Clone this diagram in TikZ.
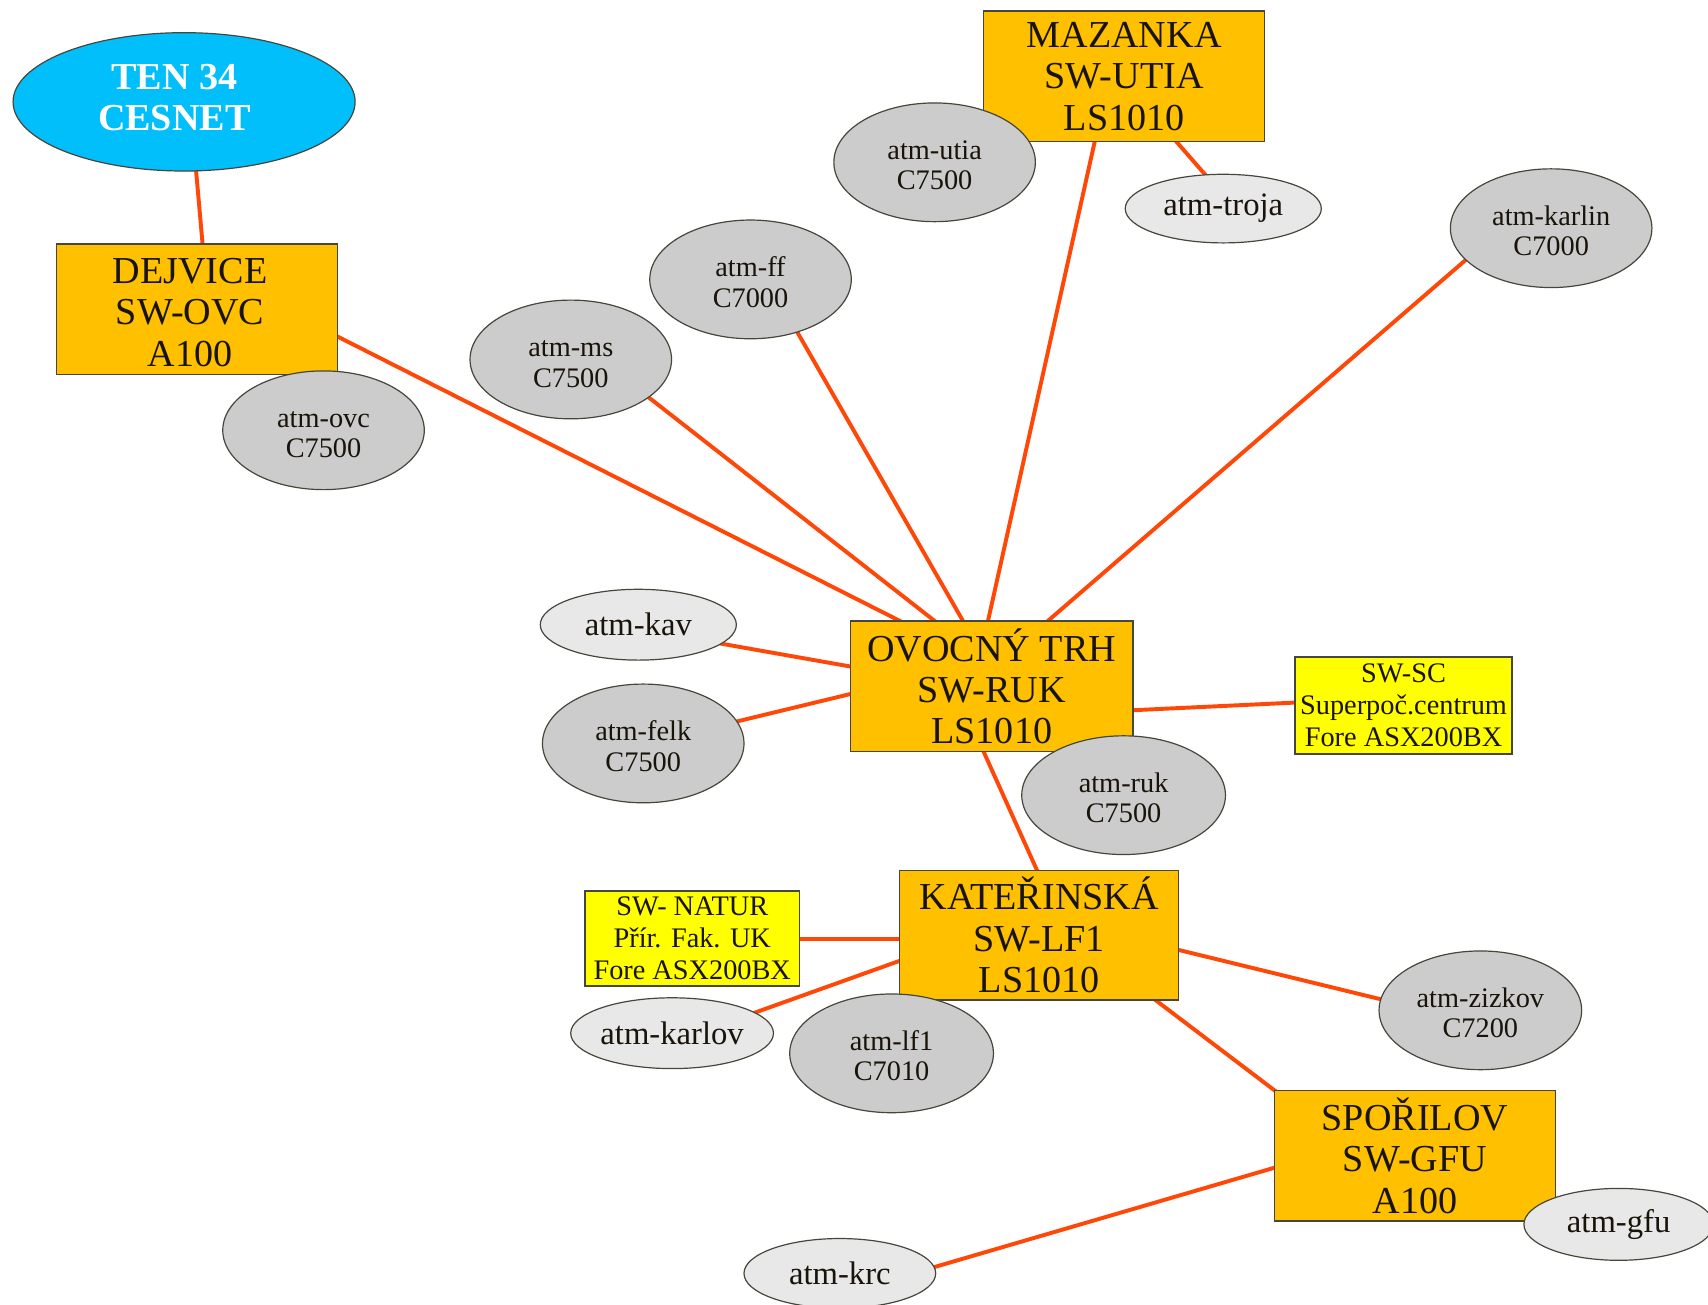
\documentclass[tikz,border=0pt]{standalone}
\usepackage{fontspec}
\setmainfont{Liberation Serif}
\usetikzlibrary{calc,backgrounds,shapes.geometric}
\definecolor{boxorange}{RGB}{255,192,0}
\definecolor{boxyellow}{RGB}{255,255,0}
\definecolor{ellgray}{RGB}{204,204,204}
\definecolor{elllight}{RGB}{232,232,232}
\definecolor{tenblue}{RGB}{0,191,250}
\definecolor{edgered}{RGB}{255,72,8}
\definecolor{bordergray}{RGB}{70,70,60}
\definecolor{txt}{RGB}{25,20,10}
\newcommand{\shiftedlines}[3]{\raisebox{#2}{\begin{tabular}{@{}c@{}}#1\end{tabular}}\hspace{#3}}
\begin{document}
\begin{tikzpicture}[x=1pt,y=-1pt,
  swbox/.style={rectangle,draw=bordergray,line width=1.3pt,fill=boxorange,inner sep=0pt,
    minimum width=258pt,minimum height=120pt,align=center,text=txt,
    font=\fontsize{35}{38}\selectfont},
  ylwbox/.style={rectangle,draw=bordergray,line width=1.3pt,fill=boxyellow,inner sep=0pt,
    minimum width=199pt,minimum height=89pt,align=center,text=txt,
    font=\fontsize{26}{29.5}\selectfont},
  gell/.style={ellipse,draw=bordergray,line width=1.1pt,fill=ellgray,inner sep=0pt,
    minimum width=185pt,minimum height=109pt,align=center,text=txt,
    font=\fontsize{26}{28}\selectfont},
  lell/.style={ellipse,draw=bordergray,line width=1.1pt,fill=elllight,inner sep=0pt,
    minimum width=179pt,minimum height=64pt,align=center,text=txt,
    font=\fontsize{30}{32}\selectfont},
  tenell/.style={ellipse,draw=bordergray,line width=1.1pt,fill=tenblue,inner sep=0pt,
    minimum width=314pt,minimum height=127pt,align=center,text=white,
    font=\bfseries\fontsize{35}{38}\selectfont},
  edge/.style={draw=edgered,line width=3.6pt}
]
\useasboundingbox (0,0) rectangle (1568,1198);

% boxes
\node[swbox] (mazanka) at (1032,70) {MAZANKA\\SW-UTIA\\LS1010};
\node[swbox] (dejvice) at (181,284) {\rule{0pt}{29pt}DEJVICE\kern13pt\\SW-OVC\kern13pt\\A100\kern13pt};
\node[swbox,minimum width=259pt] (ovocny) at (910.5,630) {OVOCNÝ TRH\\SW-RUK\\LS1010};
\node[swbox,minimum width=256pt,minimum height=119pt] (kat) at (954,858.5) {KATEŘINSKÁ\\SW-LF1\\LS1010};
\node[swbox] (sporilov) at (1299,1061) {SPOŘILOV\\SW-GFU\\A100};
\node[ylwbox] (swsc) at (1288.5,647.5) {SW-SC\\Superpoč.centrum\\Fore ASX200BX};
\node[ylwbox,minimum width=197pt,minimum height=87pt] (natur) at (635.5,861.5) {SW- NATUR\\Přír. Fak. UK\\Fore ASX200BX};

% ellipses
\node[tenell] (ten) at (169,93.5) {\shiftedlines{TEN 34\\CESNET}{4pt}{18pt}};
\node[gell] (ovc) at (297,395) {\rule{0pt}{23pt}atm-ovc\\C7500};
\node[gell] (ms) at (524,330) {\rule{0pt}{23pt}atm-ms\\C7500};
\node[gell] (ff) at (689,256.5) {\rule{0pt}{23pt}atm-ff\\C7000};
\node[gell] (utia) at (858,149) {\rule{0pt}{23pt}atm-utia\\C7500};
\node[gell] (karlin) at (1424,209.5) {\rule{0pt}{23pt}atm-karlin\\C7000};
\node[gell] (felk) at (590.5,682.5) {\rule{0pt}{23pt}atm-felk\\C7500};
\node[gell,minimum width=187pt] (ruk) at (1031.5,730) {\rule{0pt}{23pt}atm-ruk\\C7500};
\node[gell,minimum width=187pt] (lf1) at (818.5,967) {\rule{0pt}{23pt}atm-lf1\\C7010};
\node[gell,minimum width=186pt] (zizkov) at (1359,927.5) {\rule{0pt}{23pt}atm-zizkov\\C7200};
\node[lell,minimum width=180pt,minimum height=63pt] (troja) at (1123,191.5) {atm-troja};
\node[lell,minimum width=180pt,minimum height=65pt] (kav) at (586,573.5) {atm-kav};
\node[lell,minimum width=178pt,minimum height=65pt] (karlov) at (617,948.5) {atm-karlov};
\node[lell,minimum width=174pt,minimum height=66pt] (gfu) at (1486,1124) {atm-gfu};
\node[lell,minimum width=176pt,minimum height=64pt] (krc) at (771,1169) {atm-krc};

\begin{scope}[on background layer]
\fill[white] (0,0) rectangle (1568,1198);
\draw[edge] ($(ten.center)+(10.5,57.5)$) -- ($(dejvice.center)+(5.5,-54)$);
\draw[edge] ($(dejvice.center)+(123.6,22.3)$) -- ($(ovocny.center)+(-79.1,-57.3)$);
\draw[edge] ($(ms.center)+(68.3,32.3)$) -- ($(ovocny.center)+(-47.8,-56.3)$);
\draw[edge] ($(ff.center)+(40,43.3)$) -- ($(ovocny.center)+(-23.5,-54.8)$);
\draw[edge] ($(mazanka.center)+(-25.7,54.1)$) -- ($(ovocny.center)+(-4.8,-54.1)$);
\draw[edge] ($(karlin.center)+(-75.5,26.6)$) -- ($(ovocny.center)+(47,-56.1)$);
\draw[edge] ($(mazanka.center)+(44,55.5)$) -- ($(troja.center)+(-13,-27)$);
\draw[edge] ($(kav.center)+(71,16.5)$) -- ($(ovocny.center)+(-123.5,-17)$);
\draw[edge] ($(felk.center)+(81.5,-19.1)$) -- ($(ovocny.center)+(-123.5,5.6)$);
\draw[edge] ($(ovocny.center)+(123.5,22.3)$) -- ($(swsc.center)+(-93.5,-2.8)$);
\draw[edge] ($(ovocny.center)+(-10,54.5)$) -- ($(kat.center)+(0.5,-54)$);
\draw[edge] ($(natur.center)+(92.5,0.5)$) -- ($(kat.center)+(-122,3.5)$);
\draw[edge] ($(karlov.center)+(69.3,-16.5)$) -- ($(kat.center)+(-122.3,21.5)$);
\draw[edge] ($(kat.center)+(122,12.1)$) -- ($(zizkov.center)+(-83,-8.1)$);
\draw[edge] ($(kat.center)+(103.2,56.9)$) -- ($(sporilov.center)+(-124.2,-56.4)$);
\draw[edge] ($(sporilov.center)+(-123.2,9.3)$) -- ($(krc.center)+(78.2,-3.3)$);
\end{scope}
\end{tikzpicture}
\end{document}
